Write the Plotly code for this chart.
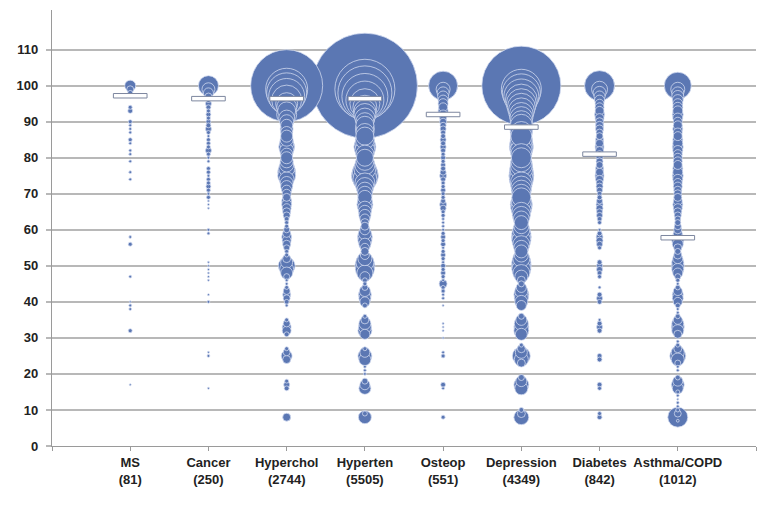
import plotly.graph_objects as go

categories = ["MS", "Cancer", "Hyperchol", "Hyperten", "Osteop", "Depression", "Diabetes", "Asthma/COPD"]
n_patients = [81, 250, 2744, 5505, 551, 4349, 842, 1012]
medians = [97.2, 96.4, 96.4, 96.4, 92.0, 88.5, 81.0, 57.8]

# score values (y) and number of patients at each score (bubble size)
ms_y = [100, 99, 98, 97, 94, 93, 90, 89, 88, 87, 85, 84, 82, 81, 79, 76, 74, 58, 56, 47, 40, 39, 38, 32, 17]
ms_n = [30, 12, 6, 2, 4, 6, 4, 2, 2, 2, 4, 2, 2, 2, 2, 2, 2, 2, 4, 2, 1, 2, 2, 4, 1]

cancer_y = [100, 99, 98, 97, 96, 95, 94, 93, 92, 91, 90, 89, 88, 87, 86, 85, 84, 83, 82, 81, 80, 79, 77, 76, 75,
            74, 73, 72, 71, 70, 69, 68, 67, 66, 60, 59, 51, 50, 49, 48, 47, 46, 42, 40, 26, 25, 16]
cancer_n = [100, 42, 25, 12, 6, 9, 6, 4, 6, 4, 6, 6, 9, 4, 2, 4, 4, 4, 9, 4, 2, 2, 4, 4, 2,
            4, 4, 6, 4, 2, 4, 1, 1, 1, 2, 2, 1, 1, 1, 1, 1, 1, 1, 2, 1, 2, 1]

hyperchol_y = [100, 99, 98, 97, 96, 95, 94, 93, 92, 91, 90, 89, 88, 87, 86, 85, 84, 83, 82, 81, 80, 79, 78, 77, 76,
               75, 74, 73, 72, 71, 70, 69, 68, 67, 66, 65, 64, 63, 62, 61, 60, 59, 58, 57, 56, 55, 54, 53, 52, 51,
               50, 49, 48, 47, 46, 45, 44, 43, 42, 41, 40, 39, 35, 34, 33, 32, 31, 27, 26, 25, 24, 18, 17, 16, 8]
hyperchol_n = [1296, 441, 400, 324, 225, 121, 100, 81, 100, 64, 49, 36, 42, 36, 36, 42, 49, 64, 49, 36, 36, 42, 49, 64, 81,
               81, 56, 42, 36, 25, 20, 16, 25, 25, 20, 16, 12, 6, 4, 4, 9, 16, 25, 20, 16, 9, 4, 4, 16, 36,
               72, 49, 36, 9, 2, 2, 4, 12, 16, 12, 6, 2, 4, 12, 20, 20, 6, 4, 12, 30, 16, 4, 9, 6, 16]

hyperten_y = [100, 99, 98, 97, 96, 95, 94, 93, 92, 91, 90, 89, 88, 87, 86, 85, 84, 83, 82, 81, 80, 79, 78, 77, 76,
              75, 74, 73, 72, 71, 70, 69, 68, 67, 66, 65, 64, 63, 62, 61, 60, 59, 58, 57, 56, 55, 54, 53, 52, 51,
              50, 49, 48, 47, 46, 45, 44, 43, 42, 41, 40, 39, 36, 35, 34, 33, 32, 31, 27, 26, 25, 24, 22, 21, 20,
              18, 17, 16, 9, 8]
hyperten_n = [2756, 900, 729, 529, 361, 225, 144, 121, 121, 100, 81, 81, 90, 81, 81, 90, 100, 121, 100, 81, 72, 81, 100, 121, 156,
              182, 144, 100, 81, 64, 56, 49, 56, 64, 49, 42, 36, 25, 16, 16, 25, 42, 56, 49, 36, 20, 16, 20, 49, 81,
              100, 90, 64, 25, 6, 4, 9, 30, 42, 36, 25, 6, 4, 16, 36, 42, 49, 25, 4, 25, 49, 36, 2, 2, 2,
              9, 25, 36, 6, 42]

osteop_y = [100, 99, 98, 97, 96, 95, 94, 93, 92, 91, 90, 89, 88, 87, 86, 85, 84, 83, 82, 81, 80, 79, 78, 77, 76,
            75, 74, 73, 72, 71, 70, 69, 68, 67, 66, 65, 64, 63, 62, 61, 60, 59, 58, 57, 56, 55, 54, 53, 52, 51,
            50, 49, 48, 47, 46, 45, 44, 43, 42, 41, 39, 34, 33, 32, 30, 26, 25, 17, 16, 8]
osteop_n = [210, 49, 36, 30, 25, 25, 20, 25, 20, 12, 12, 9, 9, 6, 6, 9, 6, 9, 6, 4, 6, 4, 6, 6, 9,
            12, 6, 4, 4, 6, 4, 4, 6, 12, 9, 4, 4, 2, 2, 2, 2, 4, 6, 4, 6, 2, 4, 6, 4, 2,
            6, 4, 6, 4, 2, 16, 4, 4, 2, 2, 1, 1, 1, 1, 1, 2, 4, 6, 2, 4]

depression_y = [100, 99, 98, 97, 96, 95, 94, 93, 92, 91, 90, 89, 88, 87, 86, 85, 84, 83, 82, 81, 80, 79, 78, 77, 76,
                75, 74, 73, 72, 71, 70, 69, 68, 67, 66, 65, 64, 63, 62, 61, 60, 59, 58, 57, 56, 55, 54, 53, 52, 51,
                50, 49, 48, 47, 46, 45, 44, 43, 42, 41, 40, 39, 36, 35, 34, 33, 32, 31, 28, 27, 26, 25, 24, 23, 19,
                18, 17, 16, 10, 9, 8]
depression_n = [1560, 400, 361, 306, 256, 225, 196, 169, 144, 132, 121, 121, 132, 121, 110, 121, 132, 144, 121, 110, 100, 110, 121, 132, 144,
                156, 144, 121, 110, 100, 90, 90, 100, 121, 110, 90, 81, 64, 49, 56, 72, 90, 100, 90, 72, 56, 42, 49, 72, 90,
                100, 90, 72, 42, 16, 9, 25, 42, 56, 49, 42, 25, 9, 30, 49, 56, 56, 36, 4, 16, 36, 81, 49, 16, 9,
                30, 56, 42, 6, 16, 56]

diabetes_y = [100, 99, 98, 97, 96, 95, 94, 93, 92, 91, 90, 89, 88, 87, 86, 85, 84, 83, 82, 81, 80, 79, 78, 77, 76,
              75, 74, 73, 72, 71, 70, 69, 68, 67, 66, 65, 64, 63, 62, 60, 59, 58, 57, 56, 55, 51, 50, 49, 48, 47,
              44, 42, 41, 40, 35, 34, 33, 32, 25, 24, 17, 16, 9, 8]
diabetes_n = [225, 64, 42, 30, 25, 20, 20, 20, 25, 20, 16, 16, 16, 12, 12, 16, 16, 20, 16, 12, 12, 12, 12, 16, 16,
              20, 16, 12, 12, 9, 6, 6, 9, 12, 12, 9, 9, 6, 4, 2, 6, 12, 12, 9, 4, 6, 9, 9, 6, 4,
              2, 6, 9, 6, 2, 6, 9, 6, 6, 6, 6, 4, 4, 6]

asthma_y = [100, 99, 98, 97, 96, 95, 94, 93, 92, 91, 90, 89, 88, 87, 86, 85, 84, 83, 82, 81, 80, 79, 78, 77, 76,
            75, 74, 73, 72, 71, 70, 69, 68, 67, 66, 65, 64, 63, 62, 61, 60, 59, 58, 57, 56, 55, 54, 53, 52, 51,
            50, 49, 48, 47, 46, 45, 44, 43, 42, 41, 40, 39, 38, 37, 36, 35, 34, 33, 32, 31, 29, 28, 27, 26, 25,
            24, 23, 22, 21, 19, 18, 17, 16, 15, 14, 13, 12, 11, 10, 9, 8, 7]
asthma_n = [182, 49, 36, 36, 30, 25, 25, 25, 30, 25, 20, 20, 25, 20, 20, 25, 25, 30, 25, 20, 20, 20, 20, 25, 25,
            30, 25, 20, 20, 16, 16, 16, 20, 25, 20, 16, 12, 9, 9, 12, 16, 20, 30, 36, 30, 16, 9, 16, 25, 36,
            42, 36, 25, 9, 4, 2, 6, 20, 30, 30, 20, 6, 2, 2, 6, 20, 36, 42, 36, 16, 2, 4, 16, 42, 64,
            42, 9, 2, 2, 6, 25, 42, 30, 4, 2, 1, 2, 2, 4, 12, 100, 2]

series_y = [ms_y, cancer_y, hyperchol_y, hyperten_y, osteop_y, depression_y, diabetes_y, asthma_y]
series_n = [ms_n, cancer_n, hyperchol_n, hyperten_n, osteop_n, depression_n, diabetes_n, asthma_n]

BLUE = "#5b77b3"
RING = "rgba(214,222,242,0.95)"
FONT = "Liberation Sans, Arial, sans-serif"

# gather points, draw larger bubbles first so smaller ones sit on top
pts = []
for i, (ys, ns) in enumerate(zip(series_y, series_n)):
    for y, n in zip(ys, ns):
        pts.append((n, i + 1, y))
pts.sort(key=lambda p: -p[0])

fig = go.Figure()
fig.add_trace(go.Scatter(
    x=[p[1] for p in pts],
    y=[p[2] for p in pts],
    mode="markers",
    marker=dict(size=[p[0] for p in pts], sizemode="area", sizeref=0.5, sizemin=1,
                color=BLUE, opacity=1, line=dict(color=RING, width=0.8)),
    hoverinfo="skip",
    showlegend=False,
))

# median markers as small white bars
for i, m in enumerate(medians):
    fig.add_shape(type="rect", xref="x", yref="y",
                  x0=i + 1 - 0.215, x1=i + 1 + 0.215, y0=m - 0.62, y1=m + 0.62,
                  fillcolor="white", line=dict(color="#7d879f", width=1), layer="above")

ticktext = [""] + [f"{c}<br>({n})" for c, n in zip(categories, n_patients)] + [""]

fig.update_layout(
    width=783, height=509,
    margin=dict(l=52, r=27, t=10, b=63),
    plot_bgcolor="white", paper_bgcolor="white",
    font=dict(family=FONT, size=13, color="#222222"),
    xaxis=dict(range=[0, 9], tickvals=list(range(10)), ticktext=ticktext,
               showgrid=False, zeroline=False, showline=True, linecolor="#9a9a9a", linewidth=1.3,
               ticks="outside", ticklen=4, tickcolor="#9a9a9a", tickwidth=1,
               tickfont=dict(family=FONT, size=13, color="#222222", weight="bold")),
    yaxis=dict(range=[0, 121], tickvals=list(range(0, 111, 10)),
               showgrid=True, gridcolor="#b8b8b8", gridwidth=1.5, zeroline=False,
               showline=True, linecolor="#9a9a9a", linewidth=1.3,
               ticks="outside", ticklen=5, tickcolor="#b8b8b8", tickwidth=1.5,
               ticklabelstandoff=5,
               tickfont=dict(family=FONT, size=13, color="#222222", weight="bold")),
)

fig.write_html("out.html", config={"displayModeBar": False},
               post_script="document.body.style.margin='0';document.body.style.overflow='hidden';")
